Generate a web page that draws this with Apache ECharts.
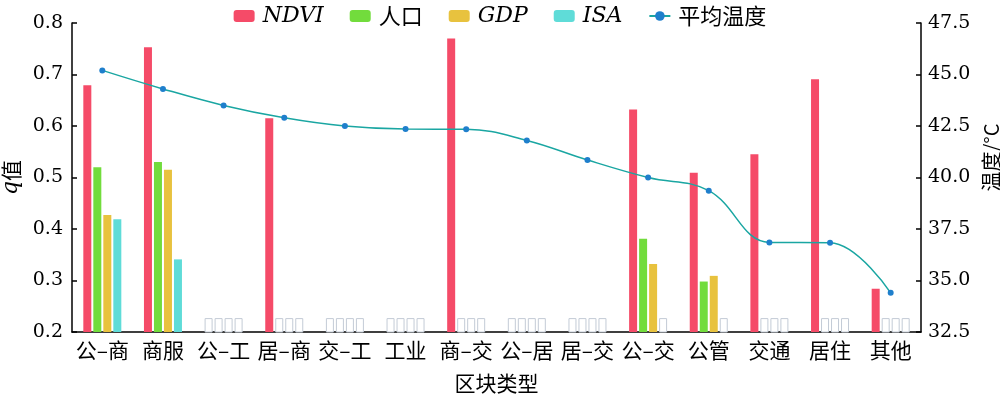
<!DOCTYPE html>
<html>
<head>
<meta charset="utf-8">
<script src="https://cdn.jsdelivr.net/npm/echarts@6/dist/echarts.min.js"></script>
<style>html,body{margin:0;padding:0;background:#fff;}#c{width:1000px;height:398px;}</style>
</head>
<body>
<div id="c"></div>
<script>
const categories = ['公–商','商服','公–工','居–商','交–工','工业','商–交','公–居','居–交','公–交','公管','交通','居住','其他'];
const ndvi = [0.679,0.753,null,0.615,null,null,0.770,null,null,0.632,0.509,0.545,0.691,0.284];
const population = [0.520,0.530,null,null,null,null,null,null,null,0.381,0.298,null,null,null];
const gdp = [0.427,0.515,null,null,null,null,null,null,null,0.332,0.309,null,null,null];
const isa = [0.419,0.341,null,null,null,null,null,null,null,null,null,null,null,null];
const temperature = [45.2,44.3,43.5,42.9,42.5,42.35,42.34,41.8,40.85,40.0,39.36,36.85,36.83,34.4];
const qTicks = [0.2,0.8,0.1];
const tTicks = [32.5,47.5,2.5];
// empty placeholder boxes drawn for missing values in the reference
const EMPTY_BOX = 0.227;

const serif = '"DejaVu Serif","Liberation Serif","Noto Sans CJK SC",serif';
const cjk = '"Noto Sans CJK SC",sans-serif';

function barData(arr){
  return arr.map(v => v == null
    ? {value: EMPTY_BOX, itemStyle:{color:'#ffffff', borderColor:'#c3cbd6', borderWidth:1}}
    : v);
}
function barSeries(name, arr, color){
  return {name, type:'bar', yAxisIndex:0, barWidth:8, barGap:'25%',
    itemStyle:{color}, data: barData(arr), z:2};
}

const chart = echarts.init(document.getElementById('c'), null, {renderer:'canvas'});
chart.setOption({
  animation:false,
  grid:{left:72, right:79, top:23, bottom:66, outerBoundsMode:'none', containLabel:false},
  legend:{
    top:0, left:'center', itemWidth:21, itemHeight:12, itemGap:26,
    textStyle:{fontSize:22, color:'#000', fontFamily:cjk, padding:[0,0,0,3],
      rich:{i:{fontStyle:'italic', fontFamily:serif, fontSize:22, color:'#000'}}},
    formatter: n => /^[A-Za-z]+$/.test(n) ? '{i|'+n+'}' : n,
    data:['NDVI','人口','GDP','ISA','平均温度']
  },
  xAxis:{
    type:'category', data:categories,
    name:'区块类型', nameLocation:'middle', nameGap:41,
    nameTextStyle:{fontSize:21, fontFamily:cjk, color:'#000'},
    axisLine:{lineStyle:{color:'#000', width:1.5}},
    axisTick:{inside:true, length:5, lineStyle:{color:'#000', width:1.5}},
    axisLabel:{fontSize:21, fontFamily:cjk, color:'#000', margin:8, interval:0}
  },
  yAxis:[{
    type:'value', min:qTicks[0], max:qTicks[1], interval:qTicks[2],
    name:'{i|q}值', nameLocation:'middle', nameRotate:90, nameGap:50,
    nameTextStyle:{fontSize:21, fontFamily:cjk, color:'#000',
      rich:{i:{fontStyle:'italic', fontFamily:serif, fontSize:22, color:'#000'}}},
    axisLine:{show:true, lineStyle:{color:'#000', width:1.5}},
    axisTick:{show:true, inside:true, length:5, lineStyle:{color:'#000', width:1.5}},
    splitLine:{show:false},
    axisLabel:{fontSize:19, fontFamily:serif, color:'#000', margin:9, formatter:v=>v.toFixed(1)}
  },{
    type:'value', min:tTicks[0], max:tTicks[1], interval:tTicks[2], position:'right',
    name:'温度/°C', nameLocation:'middle', nameRotate:90, nameGap:52,
    nameTextStyle:{fontSize:20, fontFamily:cjk, color:'#000', padding:[0,0,0,40]},
    axisLine:{show:true, lineStyle:{color:'#000', width:1.5}},
    axisTick:{show:true, inside:true, length:5, lineStyle:{color:'#000', width:1.5}},
    splitLine:{show:false},
    axisLabel:{fontSize:19, fontFamily:serif, color:'#000', margin:7, formatter:v=>v.toFixed(1)}
  }],
  series:[
    barSeries('NDVI', ndvi, '#f54b68'),
    barSeries('人口', population, '#72dc3c'),
    barSeries('GDP', gdp, '#e8c23e'),
    barSeries('ISA', isa, '#5fdcd8'),
    {name:'平均温度', type:'line', yAxisIndex:1, data:temperature, smooth:0.4,
      symbol:'circle', symbolSize:6, z:5,
      lineStyle:{color:'#1aa6a2', width:1.5},
      itemStyle:{color:'#1f7fcc'}}
  ]
});
</script>
</body>
</html>
